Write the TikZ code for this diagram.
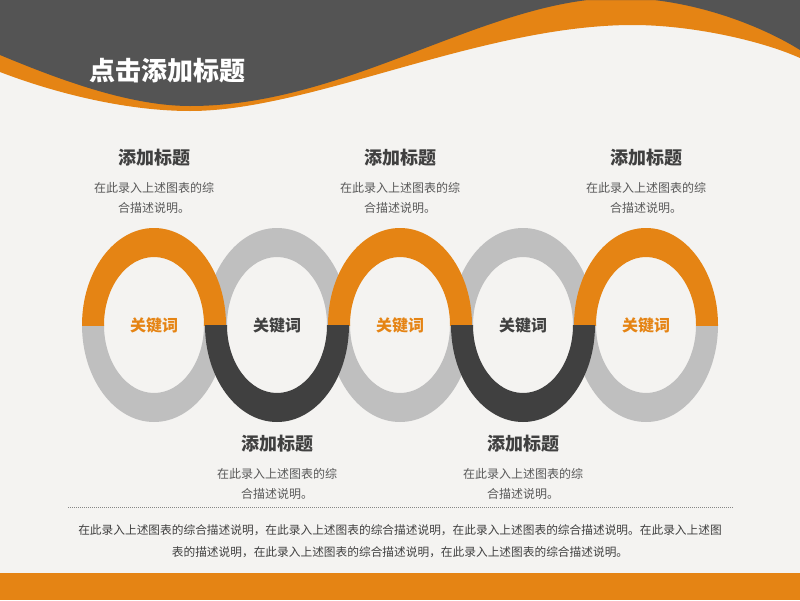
\documentclass[tikz,border=0pt]{standalone}
\usepackage{fontspec}
\usepackage{xcolor}
\usepackage{tikz}
\usetikzlibrary{positioning}
\newfontfamily\cjk{Noto Sans CJK SC}
\newfontfamily\cjkblack{Noto Sans CJK SC Black}
\definecolor{paper}{HTML}{F4F3F1}
\definecolor{wave}{HTML}{E58414}
\definecolor{header}{HTML}{545454}
\definecolor{ringgray}{HTML}{BFBFBF}
\definecolor{ringdark}{HTML}{404040}
\definecolor{textdark}{HTML}{404040}
\definecolor{textgray}{HTML}{595959}

\begin{document}
\begin{tikzpicture}[x=1pt,y=-1pt,node distance=40pt]
  \tikzstyle{title}=[text=white, font=\cjkblack\fontsize{26}{28}\selectfont]
  \tikzstyle{heading}=[text=textdark, font=\cjk\bfseries\fontsize{18}{20}\selectfont]
  \tikzstyle{desc}=[text=textgray, align=center, inner sep=0pt, font=\cjk\fontsize{12}{20}\selectfont]
  \tikzstyle{keyword}=[font=\cjk\bfseries\fontsize{16}{18}\selectfont]
  \tikzstyle{para}=[text=textdark, align=center, inner sep=0pt, font=\cjk\fontsize{11.7}{22}\selectfont]
  \tikzstyle{dotline}=[ringgray!70!black, line width=1pt, dash pattern=on 1pt off 1pt]

  % page
  \fill[paper] (0,0) rectangle (800,600);
  \useasboundingbox (0,0) rectangle (800,600);

  % header wave
  \fill[wave] (0,0) -- (0,72) .. controls (60,95) and (130,111) .. (190,111)
    .. controls (311,111) and (481,25) .. (633,25)
    .. controls (690,25) and (760,40) .. (800,58) -- (800,0) -- cycle;
  \fill[header] (0,0) -- (0,55) .. controls (60,80) and (130,106) .. (190,106)
    .. controls (349,106) and (487,-2) .. (620,-2)
    .. controls (690,-2) and (760,25) .. (800,50) -- (800,0) -- cycle;
  \fill[wave] (0,573) rectangle (800,600);

  \node[title, anchor=west] (title) at (86,71) {点击添加标题};

  % rings, half by half
  \foreach \x/\ya/\yb/\c in {277/220/325/ringgray, 523/220/325/ringgray,
      154/325/430/ringgray, 400/325/430/ringgray, 646/325/430/ringgray,
      154/220/325/wave, 400/220/325/wave, 646/220/325/wave,
      277/325/430/ringdark, 523/325/430/ringdark}{
    \begin{scope}
      \clip (\x-80,\ya) rectangle (\x+80,\yb);
      \fill[\c, even odd rule] (\x,325) ellipse [x radius=72, y radius=97]
        (\x,325) ellipse [x radius=50, y radius=68];
    \end{scope}
  }

  \node[keyword, text=wave] (k1) at (154,325) {关键词};
  \node[keyword, text=ringdark] (k2) at (277,325) {关键词};
  \node[keyword, text=wave] (k3) at (400,325) {关键词};
  \node[keyword, text=ringdark] (k4) at (523,325) {关键词};
  \node[keyword, text=wave] (k5) at (646,325) {关键词};

  % texts above and below
  \node[heading] (t1) at (154,158) {添加标题};
  \node[desc] (d1) [below of=t1] {在此录入上述图表的综\\合描述说明。};
  \node[heading] (t3) at (400,158) {添加标题};
  \node[desc] (d3) [below of=t3] {在此录入上述图表的综\\合描述说明。};
  \node[heading] (t5) at (646,158) {添加标题};
  \node[desc] (d5) [below of=t5] {在此录入上述图表的综\\合描述说明。};
  \node[heading] (t2) at (277,444) {添加标题};
  \node[desc] (d2) [below of=t2] {在此录入上述图表的综\\合描述说明。};
  \node[heading] (t4) at (523,444) {添加标题};
  \node[desc] (d4) [below of=t4] {在此录入上述图表的综\\合描述说明。};

  % footer text
  \coordinate (l) at (68,507);
  \coordinate (r) at (734,507);
  \draw[dotline] (l) -- (r);
  \node[para] (p) at (400,541) {在此录入上述图表的综合描述说明，在此录入上述图表的综合描述说明，在此录入上述图表的综合描述说明。在此录入上述图\\表的描述说明，在此录入上述图表的综合描述说明，在此录入上述图表的综合描述说明。};
\end{tikzpicture}
\end{document}
